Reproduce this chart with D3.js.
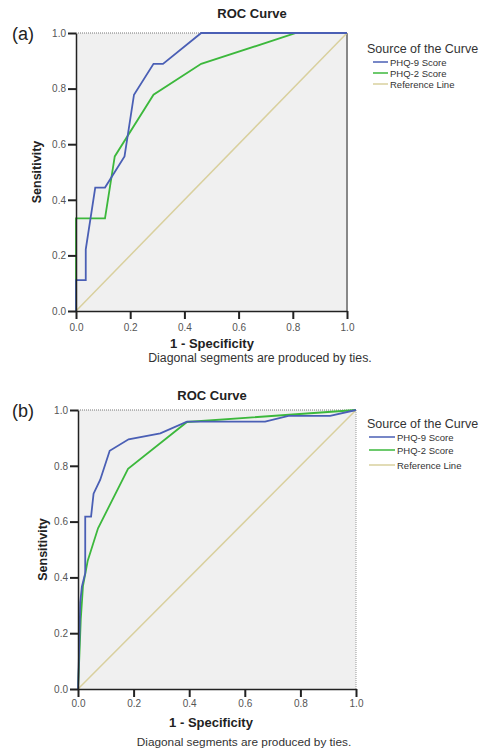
<!DOCTYPE html>
<html><head><meta charset="utf-8">
<script src="https://cdn.jsdelivr.net/npm/d3@7"></script>
<style>
body{margin:0;background:#fff;}
svg{display:block;font-family:"Liberation Sans",Arial,sans-serif;}
</style></head>
<body>
<svg id="chart" width="481" height="755"></svg>
<script>
// ---- Data ----
const ticks = [0.0, 0.2, 0.4, 0.6, 0.8, 1.0];
const seriesNames = ["PHQ-9 Score", "PHQ-2 Score", "Reference Line"];

// Panel (a): [1 - specificity, sensitivity]
const aPHQ9 = [[0,0],[0,0.111],[0.036,0.111],[0.036,0.222],[0.071,0.444],[0.107,0.444],[0.179,0.556],[0.214,0.778],[0.286,0.889],[0.321,0.889],[0.462,1],[1,1]];
const aPHQ2 = [[0,0],[0,0.333],[0.107,0.333],[0.143,0.556],[0.286,0.778],[0.462,0.889],[0.812,1],[1,1]];
// Panel (b)
const bPHQ9 = [[0,0],[0.003,0.1],[0.006,0.22],[0.008,0.31],[0.014,0.367],[0.026,0.415],[0.026,0.618],[0.047,0.618],[0.056,0.70],[0.080,0.75],[0.114,0.854],[0.182,0.895],[0.296,0.916],[0.392,0.958],[0.673,0.958],[0.757,0.979],[0.907,0.979],[1,1]];
const bPHQ2 = [[0,0],[0.005,0.12],[0.01,0.25],[0.018,0.37],[0.035,0.46],[0.072,0.576],[0.18,0.789],[0.392,0.957],[1,1]];
const refLine = [[0,0],[1,1]];

const colors = ["#4a5fb5", "#3cb83c", "#d9d09e"];

const svg = d3.select("#chart");

function panel(cfg) {
  const x = d3.scaleLinear().domain([0,1]).range([cfg.x0, cfg.x1]);
  const y = d3.scaleLinear().domain([0,1]).range([cfg.y1, cfg.y0]);
  const g = svg.append("g");
  g.append("rect").attr("x", cfg.x0).attr("y", cfg.y0)
    .attr("width", cfg.x1 - cfg.x0).attr("height", cfg.y1 - cfg.y0)
    .attr("fill", "#f0f0f0");
  g.append("line").attr("x1", cfg.x0).attr("x2", cfg.x1).attr("y1", cfg.y0).attr("y2", cfg.y0)
    .attr("stroke", "#777").attr("stroke-width", 1).attr("stroke-dasharray", "1,1");
  g.append("line").attr("x1", cfg.x1).attr("x2", cfg.x1).attr("y1", cfg.y0).attr("y2", cfg.y1)
    .attr("stroke", cfg.rightColor).attr("stroke-width", cfg.rightWidth).attr("stroke-dasharray", cfg.rightDash);

  const line = d3.line().x(d => x(d[0])).y(d => y(d[1]));
  const sets = [cfg.s9, cfg.s2, refLine];
  [2,1,0].forEach(i => {
    g.append("path").datum(sets[i]).attr("d", line)
      .attr("fill", "none").attr("stroke", colors[i])
      .attr("stroke-width", i === 2 ? 1.5 : 1.8).attr("stroke-linejoin", "miter");
  });

  const xAxis = d3.axisBottom(x).tickValues(ticks).tickFormat(d3.format(".1f")).tickSize(8).tickSizeOuter(0);
  const yAxis = d3.axisLeft(y).tickValues(ticks).tickFormat(d3.format(".1f")).tickSize(8).tickSizeOuter(0);
  const gx = g.append("g").attr("transform", `translate(0,${cfg.y1})`).call(xAxis);
  const gy = g.append("g").attr("transform", `translate(${cfg.x0},0)`).call(yAxis);
  [gx, gy].forEach(a => {
    a.select(".domain").attr("stroke", "#222").attr("stroke-width", 1.5);
    a.selectAll(".tick line").attr("stroke", "#222").attr("stroke-width", 2);
    a.selectAll(".tick text").attr("fill", "#555").attr("font-size", 10).attr("font-family", "Liberation Sans, Arial, sans-serif");
  });
  gx.selectAll(".tick text").attr("dy", "0").attr("y", cfg.xTickDy);
  gy.selectAll(".tick text").attr("x", -10);

  g.append("text").attr("x", cfg.titleX).attr("y", cfg.titleY).attr("text-anchor", "middle")
    .attr("font-weight", "bold").attr("font-size", 13).attr("fill", "#222").text("ROC Curve");
  g.append("text").attr("x", 12).attr("y", cfg.labelY).attr("font-size", 18).attr("fill", "#222").text(cfg.label);
  g.append("text").attr("transform", `translate(${cfg.yTitleX},${(cfg.y0+cfg.y1)/2}) rotate(-90)`)
    .attr("text-anchor", "middle").attr("font-weight", "bold").attr("font-size", 12.5).attr("fill", "#222").text("Sensitivity");
  g.append("text").attr("x", cfg.xTitleX).attr("y", cfg.xTitleY).attr("text-anchor", "middle")
    .attr("font-weight", "bold").attr("font-size", 13).attr("fill", "#222").text("1 - Specificity");
  g.append("text").attr("x", cfg.noteX).attr("y", cfg.noteY).attr("text-anchor", "middle")
    .attr("font-size", cfg.noteSize).attr("fill", "#333").text("Diagonal segments are produced by ties.");

  const lg = g.append("g");
  lg.append("text").attr("x", 367).attr("y", cfg.legY).attr("font-size", 12.5).attr("fill", "#333").text("Source of the Curve");
  seriesNames.forEach((n, i) => {
    const yy = cfg.legItemY[i];
    lg.append("line").attr("x1", cfg.legLx0).attr("x2", cfg.legLx1).attr("y1", yy).attr("y2", yy)
      .attr("stroke", colors[i]).attr("stroke-width", 1.5);
    lg.append("text").attr("x", cfg.legLx1 + 2).attr("y", yy + 3.5).attr("font-size", 9.5).attr("fill", "#333").text(n);
  });
}

panel({x0:76, x1:347, y0:33, y1:311, s9:aPHQ9, s2:aPHQ2,
  rightColor:"#888", rightWidth:2, rightDash:null,
  xTickDy:20, titleX:252, titleY:18, label:"(a)", labelY:40, yTitleX:41,
  xTitleX:212, xTitleY:348, noteX:260, noteY:362, noteSize:12.3,
  legY:53, legItemY:[62,73,84], legLx0:373, legLx1:388});

panel({x0:78, x1:356, y0:410, y1:689, s9:bPHQ9, s2:bPHQ2,
  rightColor:"#999", rightWidth:1, rightDash:"1,1",
  xTickDy:18, titleX:212, titleY:400, label:"(b)", labelY:417, yTitleX:47,
  xTitleX:211, xTitleY:727, noteX:244, noteY:746, noteSize:11.8,
  legY:428, legItemY:[437,450,465], legLx0:369, legLx1:395});
</script>
</body></html>
